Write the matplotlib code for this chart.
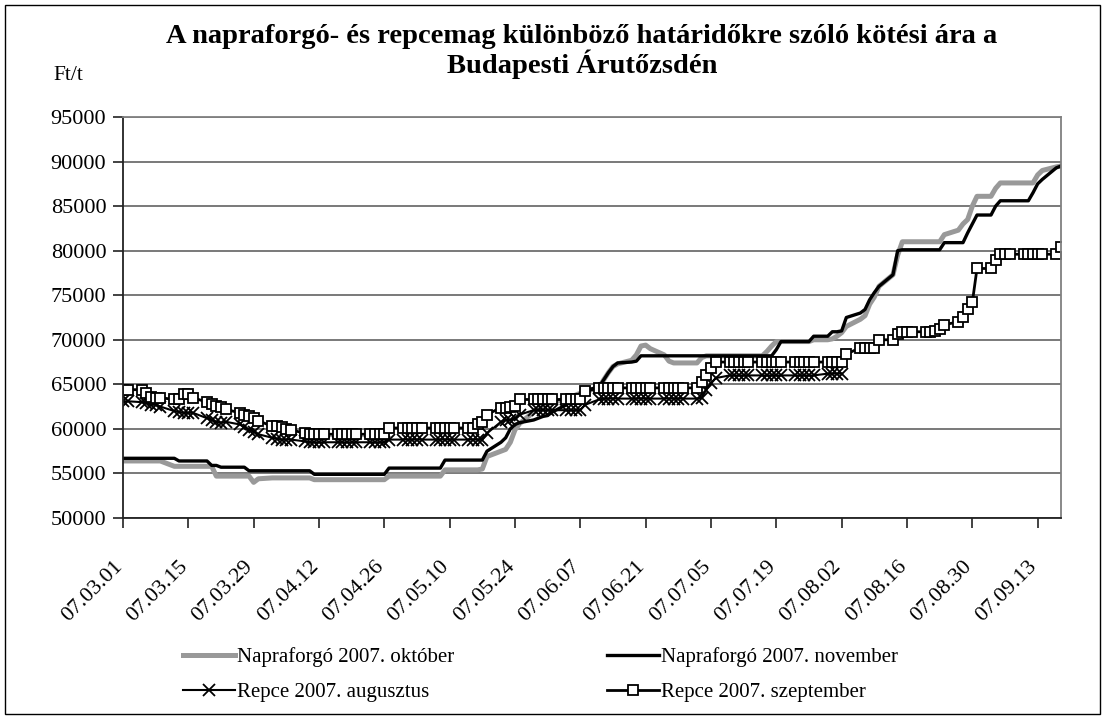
import numpy as np
import pandas as pd
import matplotlib
matplotlib.use('Agg')
from matplotlib import pyplot as plt
import matplotlib.dates as mdates
from matplotlib.patches import Rectangle
from matplotlib.transforms import ScaledTranslation

# Times-like font, like the Excel original
plt.rcParams['font.family'] = ['Liberation Serif', 'DejaVu Serif']

# trading days 07.03.01 - 07.09.18, values below are one line per week
dates = pd.bdate_range('2007-03-01', '2007-09-18')

napraforgo_okt = [
    56400, 56400,
    56400, 56400, 56400, 56400, 56400,
    55800, 55800, 55800, 55800, 55800,
    55800, 55800, 54700, 54700, 54700,
    54700, 54700, 54700, 54000, 54400,
    54500, 54500, 54500, 54500, 54500,
    54500, 54500, 54300, 54300, 54300,
    54300, 54300, 54300, 54300, 54300,
    54300, 54300, 54300, 54300, 54700,
    54700, 54700, 54700, 54700, 54700,
    54700, 54700, 55400, 55400, 55400,
    55400, 55400, 55400, 55500, 56900,
    57500, 57700, 58500, 59900, 60600,
    61900, 62300, 62500, 62800, 63000,
    63300, 63500, 63800, 64000, 64200,
    64600, 65500, 66300, 67000, 67300,
    67700, 68300, 69300, 69400, 69000,
    68300, 67600, 67400, 67400, 67400,
    67400, 68000, 68200, 68200, 68200,
    68200, 68200, 68200, 68200, 68200,
    68200, 68700, 69300, 69800, 69800,
    69800, 69800, 69800, 69800, 70000,
    70000, 70100, 70400, 70800, 71500,
    72300, 72700, 74000, 74800, 76000,
    77300, 79500, 81000, 81000, 81000,
    81000, 81000, 81000, 81000, 81800,
    82300, 83000, 83500, 85000, 86100,
    86100, 87000, 87600, 87600, 87600,
    87600, 87600, 87600, 88500, 89000,
    89400, 89500,
]

napraforgo_nov = [
    56700, 56700,
    56700, 56700, 56700, 56700, 56700,
    56700, 56400, 56400, 56400, 56400,
    56400, 55900, 55900, 55700, 55700,
    55700, 55700, 55300, 55300, 55300,
    55300, 55300, 55300, 55300, 55300,
    55300, 55300, 54900, 54900, 54900,
    54900, 54900, 54900, 54900, 54900,
    54900, 54900, 54900, 54900, 55600,
    55600, 55600, 55600, 55600, 55600,
    55600, 55600, 56500, 56500, 56500,
    56500, 56500, 56500, 56500, 57500,
    58500, 59000, 60000, 60500, 60700,
    61000, 61200, 61400, 61500, 61900,
    62700, 63100, 63500, 64000, 64300,
    64700, 65500, 66300, 67000, 67400,
    67500, 67600, 68200, 68200, 68200,
    68200, 68200, 68200, 68200, 68200,
    68200, 68200, 68200, 68200, 68200,
    68200, 68200, 68200, 68200, 68200,
    68200, 68200, 68200, 68900, 69800,
    69800, 69800, 69800, 69800, 70400,
    70400, 70900, 70900, 71000, 72500,
    73000, 73400, 74500, 75300, 76000,
    77300, 80000, 80100, 80100, 80100,
    80100, 80100, 80100, 80100, 80900,
    80900, 80900, 82000, 83000, 84000,
    84000, 85000, 85600, 85600, 85600,
    85600, 85600, 86500, 87500, 88000,
    89300, 89500,
]

# the August contract stops trading at 07.08.02
repce_aug = [
    63100, 63100,
    63000, 62900, 62700, 62700, 62500,
    62000, 61900, 61800, 61800, 61800,
    61200, 61000, 60800, 60700, 60800,
    60500, 60200, 59900, 59700, 59400,
    59000, 58900, 58800, 58800, 58800,
    58600, 58500, 58500, 58500, 58500,
    58500, 58500, 58500, 58500, 58500,
    58500, 58500, 58500, 58500, 58800,
    58800, 58800, 58800, 58800, 58800,
    58800, 58800, 58800, 58800, 58800,
    58800, 58800, 58800, 58800, 59500,
    60800, 61000, 61000, 61200, 61600,
    62100, 62100, 62100, 62100, 62100,
    62100, 62100, 62100, 62100, 62700,
    63300, 63400, 63400, 63400, 63400,
    63400, 63400, 63400, 63400, 63400,
    63400, 63400, 63400, 63400, 63400,
    63400, 63500, 64400, 65100, 65700,
    66000, 66000, 66000, 66000, 66000,
    66000, 66000, 66000, 66000, 66000,
    66000, 66000, 66000, 66000, 66000,
    66200, 66200, 66200, 66200,
]

repce_szept = [
    64400, 64400,
    64400, 64000, 63600, 63500, 63500,
    63300, 63300, 63900, 63900, 63500,
    63000, 62800, 62600, 62500, 62200,
    61800, 61600, 61400, 61200, 60900,
    60300, 60300, 60200, 60000, 59900,
    59500, 59400, 59400, 59400, 59400,
    59400, 59400, 59400, 59400, 59400,
    59400, 59400, 59400, 59400, 60100,
    60100, 60100, 60100, 60100, 60100,
    60100, 60100, 60100, 60100, 60100,
    60100, 60100, 60500, 60800, 61600,
    62400, 62400, 62500, 62600, 63300,
    63300, 63300, 63300, 63300, 63300,
    63300, 63300, 63300, 63300, 64200,
    64600, 64600, 64600, 64600, 64600,
    64600, 64600, 64600, 64600, 64600,
    64600, 64600, 64600, 64600, 64600,
    64600, 65300, 66100, 66800, 67500,
    67500, 67500, 67500, 67500, 67500,
    67500, 67500, 67500, 67500, 67500,
    67500, 67500, 67500, 67500, 67500,
    67500, 67500, 67500, 67500, 68400,
    69100, 69100, 69100, 69100, 70000,
    70000, 70700, 70900, 70900, 70900,
    70900, 70900, 71000, 71200, 71700,
    72000, 72600, 73400, 74200, 78000,
    78000, 79000, 79600, 79600, 79600,
    79600, 79600, 79600, 79600, 79600,
    79600, 80400,
]

yticks = list(range(50000, 95001, 5000))
xticks = pd.date_range('2007-03-01', '2007-09-13', freq='14D')

W, H = 1105, 719
fig = plt.figure(figsize=(W / 100, H / 100), dpi=100)
ax = fig.add_axes([123 / W, 1 - 518 / H, (1061 - 123) / W, (518 - 117) / H])

ax.plot(dates, napraforgo_okt, color='#999999', lw=3.6, label='Napraforgó 2007. október')
ax.plot(dates, napraforgo_nov, color='black', lw=2.4, label='Napraforgó 2007. november')
ax.plot(dates[:len(repce_aug)], repce_aug, color='black', lw=1.5, marker='x',
        ms=8, mew=1.3, label='Repce 2007. augusztus')
ax.plot(dates, repce_szept, color='black', lw=2.0, marker='s', ms=7.8,
        mfc='white', mec='black', mew=1.3, label='Repce 2007. szeptember')

ax.set_xlim(pd.Timestamp('2007-03-01'), pd.Timestamp('2007-09-18'))
ax.set_ylim(50000, 95000)
ax.set_yticks(yticks)
ax.set_xticks(xticks)
ax.xaxis.set_major_formatter(mdates.DateFormatter('%y.%m.%d'))
ax.grid(axis='y', color='#555555', lw=1.1)
ax.set_axisbelow(True)

for s in ['top', 'right']:
    ax.spines[s].set_color('#808080')
    ax.spines[s].set_linewidth(1.3)
for s in ['left', 'bottom']:
    ax.spines[s].set_color('#222222')
    ax.spines[s].set_linewidth(1.3)
ax.tick_params(axis='both', direction='out', length=7, width=1.2, color='#222222', labelsize=16)
ax.tick_params(axis='y', pad=5)

# Excel puts the slanted labels a bit lower and to the left of the tick
shift = ScaledTranslation(-10 / 100, -24 / 100, fig.dpi_scale_trans)
for lab in ax.get_xticklabels():
    lab.set_rotation(45)
    lab.set_ha('right')
    lab.set_va('top')
    lab.set_rotation_mode('anchor')
    lab.set_transform(lab.get_transform() + shift)

fig.text(582 / W, 1 - 24 / H,
         'A napraforgó- és repcemag különböző határidőkre szóló kötési ára a\nBudapesti Árutőzsdén',
         ha='center', va='top', fontsize=20.5, fontweight='bold', linespacing=1.02)
fig.text(68 / W, 1 - 75 / H, 'Ft/t', ha='center', va='center', fontsize=15.5)

# legend goes row by row in the original, matplotlib fills columns first
h, l = ax.get_legend_handles_labels()
order = [0, 2, 1, 3]
fig.legend([h[i] for i in order], [l[i] for i in order], ncol=2, frameon=False,
           loc='upper left', bbox_to_anchor=(183 / W, 1 - 647 / H),
           borderpad=0, borderaxespad=0, handlelength=2.5, handletextpad=0.1,
           columnspacing=7.3, labelspacing=0.75, fontsize=15)

# outer chart border
fig.patches.append(Rectangle((5 / W, 5 / H), 1 - 10 / W, 1 - 10 / H,
                             transform=fig.transFigure, fill=False,
                             edgecolor='black', lw=1.0))

fig.savefig('out.png', dpi=100)
